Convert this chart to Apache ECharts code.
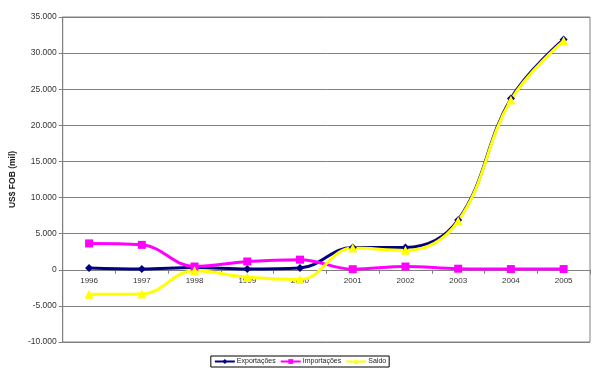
<!DOCTYPE html>
<html><head><meta charset="utf-8">
<script src="https://cdn.jsdelivr.net/npm/echarts@6/dist/echarts.min.js"></script>
<style>html,body{margin:0;padding:0;background:#fff}#c{width:600px;height:373px}</style>
</head><body><div id="c"></div>
<script>
const categories = ['1996','1997','1998','1999','2000','2001','2002','2003','2004','2005'];
const exportacoes = [250, 100, 300, 100, 250, 3100, 3100, 6900, 23700, 31900];
const importacoes = [3650, 3450, 450, 1150, 1400, 80, 450, 150, 100, 100];
const saldo = [-3400, -3350, -150, -1050, -1350, 3000, 2700, 6750, 23500, 31700];

const fmt = v => {
  const s = Math.abs(v).toString().replace(/\B(?=(\d{3})+(?!\d))/g, '.');
  return (v < 0 ? '-' : '') + s;
};
const chart = echarts.init(document.getElementById('c'));
const font = 'Liberation Sans, Arial, sans-serif';
function mk(name, data, color, symbol, size) {
  return {
    name, type: 'line', data, smooth: 0.4,
    symbol, symbolSize: size,
    lineStyle: { color, width: 3 },
    itemStyle: { color },
    z: 2
  };
}
chart.setOption({
  animation: false,
  textStyle: { fontFamily: font },
  grid: { left: 60, right: 10, top: 17, bottom: 31, show: true, borderColor: '#808080', borderWidth: 1 },
  xAxis: {
    type: 'category', data: categories, boundaryGap: true,
    axisLine: { onZero: false, lineStyle: { color: '#808080', width: 1 } },
    axisTick: { show: true, length: 4, lineStyle: { color: '#808080' } },
    axisLabel: { fontSize: 8, color: '#333', margin: 7, fontFamily: font },
    splitLine: { show: false }
  },
  yAxis: {
    type: 'value', min: -10000, max: 35000, interval: 5000,
    name: 'US$ FOB (mil)', nameLocation: 'middle', nameGap: 38, nameRotate: 90,
    nameTextStyle: { fontSize: 8.5, fontWeight: 'bold', color: '#222', fontFamily: font },
    axisLine: { show: true, lineStyle: { color: '#808080' } },
    axisTick: { show: true, length: 4, lineStyle: { color: '#808080' } },
    axisLabel: { fontSize: 8.5, color: '#333', margin: 6, formatter: fmt, fontFamily: font },
    splitLine: { show: true, lineStyle: { color: '#808080', width: 1 } }
  },
  legend: {
    bottom: 6, left: 'center',
    itemWidth: 20, itemHeight: 6, itemGap: 4,
    padding: [2, 3, 2, 3],
    borderColor: '#000', borderWidth: 1,
    textStyle: { fontSize: 7, color: '#222', fontFamily: font, padding: [0, 0, 0, -3] }
  },
  series: [
    mk('Exportações', exportacoes, '#000080', 'diamond', 8),
    mk('Importações', importacoes, '#FF00FF', 'rect', 8),
    mk('Saldo', saldo, '#FFFF00', 'triangle', 9)
  ]
});
// move category axis (line + labels) to the zero line, like the original
const zeroY = chart.convertToPixel({ yAxisIndex: 0 }, 0);
const bottomY = chart.convertToPixel({ yAxisIndex: 0 }, -10000);
chart.setOption({ xAxis: { offset: -(bottomY - zeroY) } });
</script></body></html>
